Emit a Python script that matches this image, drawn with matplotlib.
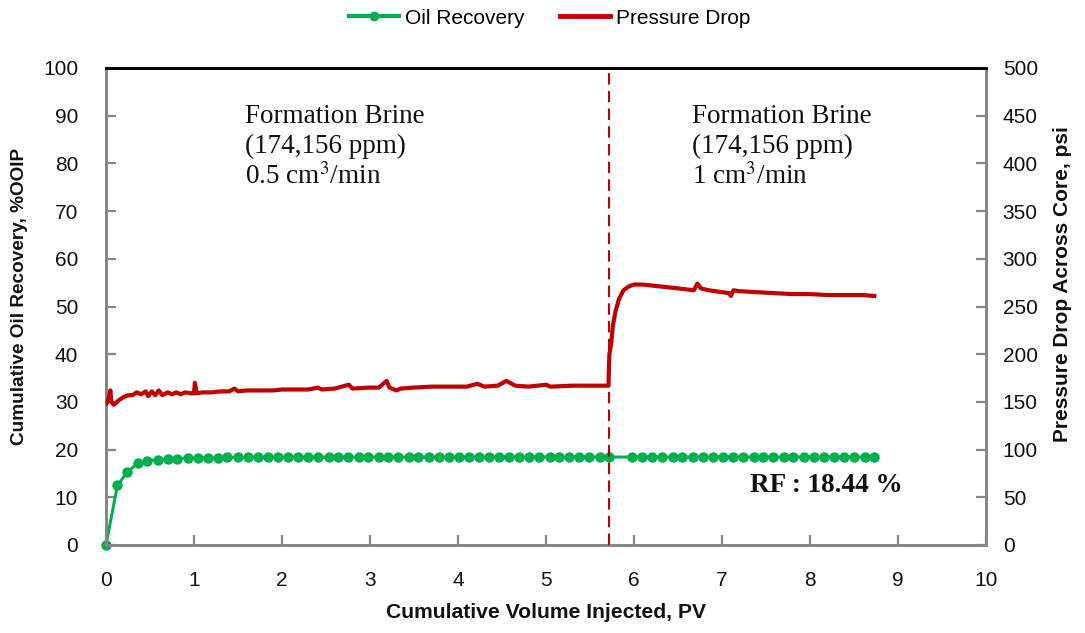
import matplotlib
matplotlib.use("Agg")
import matplotlib.pyplot as plt
from matplotlib.lines import Line2D

# Cumulative oil recovery (% OOIP) vs. pore volumes injected
pv_oil = [0.00, 0.13, 0.24, 0.36, 0.47, 0.59, 0.70, 0.81, 0.93, 1.04,
          1.16, 1.27, 1.38, 1.50, 1.61, 1.73, 1.84, 1.96, 2.07, 2.18,
          2.30, 2.41, 2.53, 2.64, 2.75, 2.87, 2.98, 3.10, 3.21, 3.32,
          3.44, 3.55, 3.67, 3.78, 3.90, 4.01, 4.12, 4.24, 4.35, 4.47,
          4.58, 4.69, 4.81, 4.92, 5.04, 5.15, 5.26, 5.38, 5.49, 5.61,
          5.72,
          5.98, 6.09, 6.21, 6.32, 6.44, 6.55, 6.67, 6.78, 6.90, 7.01,
          7.13, 7.24, 7.36, 7.47, 7.58, 7.70, 7.81, 7.93, 8.04, 8.16,
          8.27, 8.39, 8.50, 8.62, 8.73]
oil_recovery = [0.0, 12.5, 15.2, 17.2, 17.7, 17.9, 18.0, 18.1, 18.2, 18.25,
                18.3, 18.3, 18.35, 18.35, 18.35, 18.4, 18.4, 18.4, 18.4, 18.4,
                18.4, 18.4, 18.4, 18.4, 18.42, 18.42, 18.42, 18.42, 18.42, 18.42,
                18.43, 18.43, 18.43, 18.43, 18.43, 18.43, 18.43, 18.43, 18.43, 18.43,
                18.44, 18.44, 18.44, 18.44, 18.44, 18.44, 18.44, 18.44, 18.44, 18.44,
                18.44,
                18.44, 18.44, 18.44, 18.44, 18.44, 18.44, 18.44, 18.44, 18.44, 18.44,
                18.44, 18.44, 18.44, 18.44, 18.44, 18.44, 18.44, 18.44, 18.44, 18.44,
                18.44, 18.44, 18.44, 18.44, 18.44]

# Pressure drop across the core (psi)
pv_dp = [0.00, 0.02, 0.05, 0.06, 0.09, 0.15, 0.20, 0.25, 0.30, 0.35,
         0.40, 0.45, 0.48, 0.52, 0.56, 0.60, 0.64, 0.70, 0.75, 0.80,
         0.85, 0.90, 0.97, 1.00, 1.01, 1.03, 1.10, 1.20, 1.30, 1.40,
         1.46, 1.50, 1.60, 1.70, 1.80, 1.90, 2.00, 2.20, 2.30, 2.41,
         2.45, 2.60, 2.76, 2.80, 3.00, 3.10, 3.19, 3.22, 3.30, 3.35,
         3.50, 3.70, 3.90, 4.10, 4.22, 4.30, 4.45, 4.55, 4.65, 4.80,
         5.00, 5.05, 5.30, 5.50, 5.71, 5.72, 5.74, 5.76, 5.79, 5.83,
         5.88, 5.94, 6.00, 6.10, 6.30, 6.50, 6.68, 6.72, 6.76, 6.85,
         7.00, 7.08, 7.10, 7.13, 7.20, 7.40, 7.60, 7.80, 8.00, 8.20,
         8.40, 8.60, 8.73]
pressure_drop = [148, 150, 162, 150, 147, 152, 155, 157, 157, 160,
                 158, 161, 156, 161, 157, 162, 157, 160, 158, 160,
                 158, 160, 159, 159, 170, 159, 160, 160, 161, 161,
                 164, 161, 162, 162, 162, 162, 163, 163, 163, 165,
                 163, 164, 168, 164, 165, 165, 172, 165, 162, 164,
                 165, 166, 166, 166, 169, 166, 167, 172, 167, 166,
                 168, 166, 167, 167, 167, 200, 210, 230, 245, 258,
                 267, 271, 273, 273, 271, 269, 267, 274, 269, 267,
                 265, 264, 261, 267, 266, 265, 264, 263, 263, 262,
                 262, 262, 261]

rate_change_pv = 5.72
final_rf = 18.44
x_ticks = [0, 1, 2, 3, 4, 5, 6, 7, 8, 9, 10]
left_ticks = [0, 10, 20, 30, 40, 50, 60, 70, 80, 90, 100]
right_ticks = [0, 50, 100, 150, 200, 250, 300, 350, 400, 450, 500]

GREEN = "#00B050"
RED = "#C00000"
GRAY = "#868686"

plt.rcParams["font.family"] = ["Liberation Sans", "DejaVu Sans"]
plt.rcParams["mathtext.fontset"] = "stix"

fig = plt.figure(figsize=(10.85, 6.33), dpi=100)
ax = fig.add_axes([106 / 1085, 1 - 545 / 633, 880 / 1085, 477 / 633])
ax2 = ax.twinx()

ax.plot(pv_oil, oil_recovery, color=GREEN, lw=2.2, marker="o", ms=7.5,
        markeredgewidth=0, zorder=3, clip_on=False)
ax2.plot(pv_dp, pressure_drop, color=RED, lw=3.0, zorder=3,
         solid_joinstyle="round")
ax2.axvline(rate_change_pv, color=RED, lw=1.5, ls=(0, (5.5, 3)), zorder=4)

ax.set_xlim(0, 10)
ax.set_ylim(0, 100)
ax2.set_ylim(0, 500)
ax.set_xticks(x_ticks)
ax.set_yticks(left_ticks)
ax2.set_yticks(right_ticks)

for a in (ax, ax2):
    for side in ("left", "right", "bottom"):
        a.spines[side].set_color(GRAY)
        a.spines[side].set_linewidth(2.0)
    a.spines["top"].set_color("black")
    a.spines["top"].set_linewidth(2.0)
    a.patch.set_visible(False)

ax.tick_params(axis="both", direction="in", length=7, width=1.6, color=GRAY,
               labelsize=15, labelcolor="#111111")
ax.tick_params(axis="y", pad=20)
ax.tick_params(axis="x", pad=19)
ax2.tick_params(axis="y", direction="in", length=7, width=1.6, color=GRAY,
                labelsize=15, labelcolor="#111111", pad=12)

label_font = dict(fontweight="bold", color="#111111")
fig.text(546 / 1085, 1 - 613 / 633, "Cumulative Volume Injected, PV",
         ha="center", va="center", fontsize=15.2, **label_font)
fig.text(20 / 1085, 1 - 296 / 633, "Cumulative Oil Recovery, %OOIP",
         ha="center", va="center", rotation=90, fontsize=13.7, **label_font)
fig.text(1063 / 1085, 1 - 284 / 633, "Pressure Drop Across Core, psi",
         ha="center", va="center", rotation=90, fontsize=15, **label_font)

serif = dict(family=["Liberation Serif", "DejaVu Serif"], fontsize=19.5,
             color="#111111", va="center", ha="left")
for x0, rate in ((1.58, "0.5 cm$^3$/min"), (6.66, "1 cm$^3$/min")):
    ax.text(x0, 89.9, "Formation Brine", **serif)
    ax.text(x0, 83.6, "(174,156 ppm)", **serif)
    ax.text(x0, 77.3, rate, **serif)

ax.text(8.19, 12.4, f"RF : {final_rf:.2f} %",
        family=["Liberation Serif", "DejaVu Serif"],
        fontsize=19.5, fontweight="bold", color="#111111", ha="center",
        va="center")

handles = [Line2D([], [], color=GREEN, lw=3, marker="o", ms=7,
                  markeredgewidth=0),
           Line2D([], [], color=RED, lw=3.5)]
fig.legend(handles, ["Oil Recovery", "Pressure Drop"], loc="center",
           bbox_to_anchor=(0.5 + 7 / 1085, 1 - 18 / 633), ncol=2,
           frameon=False, fontsize=15, handlelength=2.4, handletextpad=0.3,
           columnspacing=1.7)

fig.savefig("out.png", dpi=100, facecolor="white")
